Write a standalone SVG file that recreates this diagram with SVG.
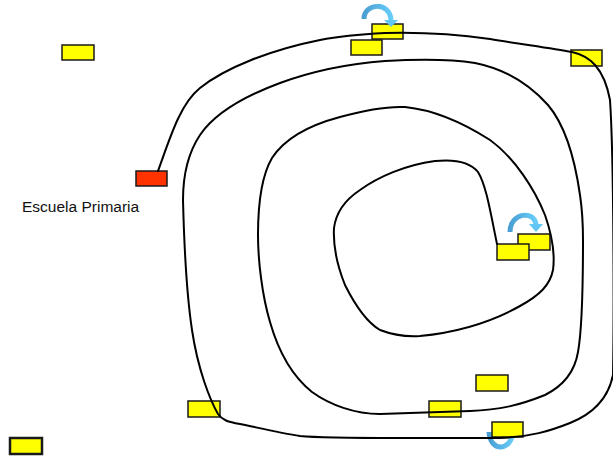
<svg xmlns="http://www.w3.org/2000/svg" width="613" height="458" viewBox="0 0 613 458">
  <style>
    .stop { fill: #ffff00; stroke: #1a1a1a; stroke-width: 1.5; }
    .start { fill: #ff3300; stroke: #1a1a1a; stroke-width: 1.5; }
    .route { fill: none; stroke: #000; stroke-width: 2; stroke-linecap: round; stroke-linejoin: round; }
    .turn { fill: none; stroke: url(#turnGrad); stroke-width: 5; }
    .turnHead { fill: #62c6f4; }
    .label { font-family: "Liberation Sans", Arial, sans-serif; font-size: 15.5px; fill: #111; }
  </style>
  <defs>
    <linearGradient id="turnGrad" x1="0" y1="0" x2="1" y2="0">
      <stop offset="0" stop-color="#4a9fd2"/>
      <stop offset="1" stop-color="#66ccf8"/>
    </linearGradient>
  </defs>

  <!-- U-turn under the bottom stop (drawn first, the box covers its ends) -->
  <g id="turn-bottom">
    <path class="turn" d="M489,432 C490,452 511,452 513,432"/>
  </g>

  <!-- stops -->
  <g id="stop-a"><rect class="stop" x="62" y="45" width="32" height="15"/></g>
  <g id="school"><rect class="start" x="136" y="171" width="31" height="15"/>
    <text class="label" x="22" y="212">Escuela Primaria</text></g>
  <g id="stop-b"><rect class="stop" x="351" y="40" width="31" height="15"/></g>
  <g id="stop-c"><rect class="stop" x="372" y="24" width="31" height="15"/></g>
  <g id="stop-d"><rect class="stop" x="571" y="50" width="31" height="16"/></g>
  <g id="stop-e"><rect class="stop" x="518" y="234" width="32" height="16"/></g>
  <g id="stop-f"><rect class="stop" x="497" y="244" width="32" height="16"/></g>
  <g id="stop-g"><rect class="stop" x="476" y="375" width="32" height="16"/></g>
  <g id="stop-h"><rect class="stop" x="429" y="401" width="32" height="16"/></g>
  <g id="stop-i"><rect class="stop" x="188" y="401" width="32" height="16"/></g>
  <g id="stop-j"><rect class="stop" x="492" y="422" width="31" height="15"/></g>
  <g id="stop-k"><rect class="stop" x="10" y="438" width="32" height="16" style="stroke-width:2.5"/></g>

  <!-- bus route spiral -->
  <g id="connectors">
    <path class="route" d="M158,171
      C170,138 180,104 200,88
      C225,68 270,50 320,40
      C345,35 365,34 385,33
      C420,32 455,34 490,39
      C520,44 550,48 572,52
      C590,56 604,68 610,100
      C614,160 614,320 613,375
      C608,400 590,415 570,423
      C550,431 530,437 500,438
      L400,438
      C350,438 320,438 300,436
      C280,433 255,427 240,424
      C228,422 222,420 218,414
      C210,400 198,370 192,330
      C186,290 184,240 183,200
      C183,170 190,150 200,135
      C215,113 245,96 280,83
      C310,72 345,64 385,61
      C420,59 450,59 475,63
      C505,69 530,85 548,105
      C565,125 575,160 580,195
      C583,215 583,230 583,240
      C583,280 582,330 578,352
      C575,370 565,385 545,395
      C520,405 500,410 470,411
      C440,412 410,413 380,414
      C355,414 330,405 312,392
      C292,376 278,350 270,322
      C262,295 258,260 258,235
      C258,200 262,175 272,158
      C285,138 310,125 340,117
      C365,110 385,106 405,107
      C435,110 465,124 490,140
      C515,158 535,190 545,215
      C552,235 555,255 553,270
      C550,285 540,295 520,306
      C495,320 460,332 420,336
      C405,337 393,335 380,330
      C368,323 355,305 345,285
      C337,265 333,245 334,228
      C336,212 345,200 360,190
      C378,177 405,165 435,161
      C455,159 470,162 478,172
      C486,185 490,210 497,244"/>
  </g>

  <!-- curved turn arrows -->
  <g id="turn-top">
    <path class="turn" d="M364,19 C364,3 390,1 391,20"/>
    <polygon class="turnHead" points="384,20 398,20 391,27"/>
  </g>
  <g id="turn-middle">
    <path class="turn" d="M510,232 C510,212 535,210 536,225"/>
    <polygon class="turnHead" points="529,224 543,224 536,232"/>
  </g>
</svg>
